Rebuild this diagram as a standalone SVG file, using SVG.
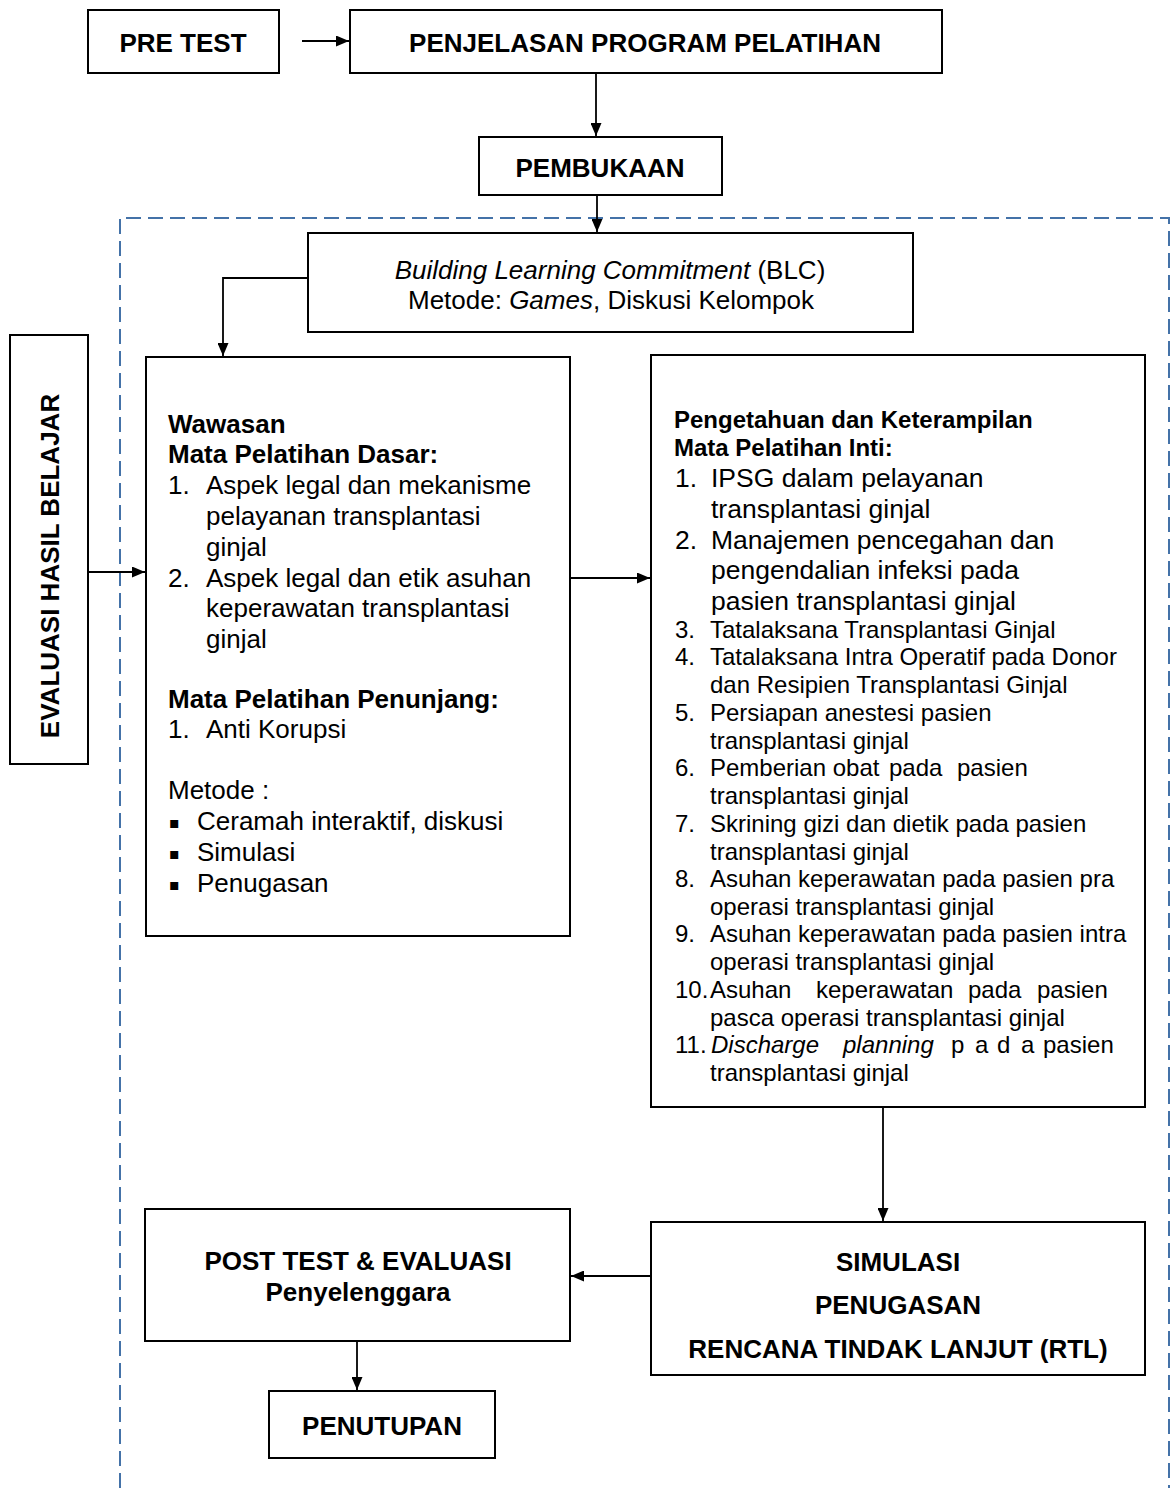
<svg xmlns="http://www.w3.org/2000/svg" width="1171" height="1488" viewBox="0 0 1171 1488">
<style>
.box{fill:#fff;stroke:#000;stroke-width:2}
.t{font-family:"Liberation Sans",Arial,sans-serif;fill:#000}
.b{font-weight:bold}
.c{text-anchor:middle}
.i{font-style:italic}
.con{fill:none;stroke:#000;stroke-width:1.8}
.f26{font-size:26px}
.f24{font-size:24px}
.f265{font-size:26.5px}
.bul{font-family:"DejaVu Sans",sans-serif;font-size:16px}
</style>
<defs>
<marker id="ah" markerUnits="userSpaceOnUse" markerWidth="13" markerHeight="11" refX="13" refY="5.5" orient="auto">
<path d="M0,0 L13,5.5 L0,11 z" fill="#000"/>
</marker>
</defs>
<rect width="1171" height="1488" fill="#fff"/>

<g id="frame">
<path d="M120,1488 L120,218 L1169,218 L1169,1488" fill="none" stroke="#4472a8" stroke-width="2" stroke-dasharray="15 7"/>
</g>

<g id="pretest">
<rect class="box" x="88" y="10" width="191" height="63"/>
<text class="t b c f26" x="183" y="52">PRE TEST</text>
</g>

<g id="penjelasan">
<rect class="box" x="350" y="10" width="592" height="63"/>
<text class="t b c f26" x="645" y="52">PENJELASAN PROGRAM PELATIHAN</text>
</g>

<g id="pembukaan">
<rect class="box" x="479" y="137" width="243" height="58"/>
<text class="t b c f26" x="600" y="177">PEMBUKAAN</text>
</g>

<g id="blc">
<rect class="box" x="308" y="233" width="605" height="99"/>
<text class="t c f26" x="610" y="279"><tspan class="i">Building Learning Commitment</tspan> (BLC)</text>
<text class="t c f26" x="611" y="309">Metode: <tspan class="i">Games</tspan>, Diskusi Kelompok</text>
</g>

<g id="evaluasi">
<rect class="box" x="10" y="335" width="78" height="429"/>
<text class="t b c f26" x="59" y="566" transform="rotate(-90 59 566)">EVALUASI HASIL BELAJAR</text>
</g>

<g id="wawasan">
<rect class="box" x="146" y="357" width="424" height="579"/>
<text class="t b f26" x="168" y="433">Wawasan</text>
<text class="t b f26" x="168" y="463">Mata Pelatihan Dasar:</text>
<text class="t f26" x="168" y="494">1.</text>
<text class="t f26" x="206" y="494">Aspek legal dan mekanisme</text>
<text class="t f26" x="206" y="525">pelayanan transplantasi</text>
<text class="t f26" x="206" y="556">ginjal</text>
<text class="t f26" x="168" y="587">2.</text>
<text class="t f26" x="206" y="587">Aspek legal dan etik asuhan</text>
<text class="t f26" x="206" y="617">keperawatan transplantasi</text>
<text class="t f26" x="206" y="648">ginjal</text>
<text class="t b f26" x="168" y="708">Mata Pelatihan Penunjang:</text>
<text class="t f26" x="168" y="738">1.</text>
<text class="t f26" x="206" y="738">Anti Korupsi</text>
<text class="t f26" x="168" y="799">Metode :</text>
<text class="bul" x="169" y="828">▪</text>
<text class="t f26" x="197" y="830">Ceramah interaktif, diskusi</text>
<text class="bul" x="169" y="859">▪</text>
<text class="t f26" x="197" y="861">Simulasi</text>
<text class="bul" x="169" y="890">▪</text>
<text class="t f26" x="197" y="892">Penugasan</text>
</g>

<g id="inti">
<rect class="box" x="651" y="355" width="494" height="752"/>
<text class="t b f24" x="674" y="428">Pengetahuan dan Keterampilan</text>
<text class="t b f24" x="674" y="456">Mata Pelatihan Inti:</text>
<text class="t f265" x="675" y="487">1.</text>
<text class="t f265" x="711" y="487">IPSG dalam pelayanan</text>
<text class="t f265" x="711" y="518">transplantasi ginjal</text>
<text class="t f265" x="675" y="549">2.</text>
<text class="t f265" x="711" y="549">Manajemen pencegahan dan</text>
<text class="t f265" x="711" y="579">pengendalian infeksi pada</text>
<text class="t f265" x="711" y="610">pasien transplantasi ginjal</text>
<text class="t f24" x="675" y="638">3.</text>
<text class="t f24" x="710" y="638">Tatalaksana Transplantasi Ginjal</text>
<text class="t f24" x="675" y="665">4.</text>
<text class="t f24" x="710" y="665">Tatalaksana Intra Operatif pada Donor</text>
<text class="t f24" x="710" y="693">dan Resipien Transplantasi Ginjal</text>
<text class="t f24" x="675" y="721">5.</text>
<text class="t f24" x="710" y="721">Persiapan anestesi pasien</text>
<text class="t f24" x="710" y="749">transplantasi ginjal</text>
<text class="t f24" x="675" y="776">6.</text>
<text class="t f24" y="776"><tspan x="710">Pemberian obat</tspan><tspan x="889">pada</tspan><tspan x="957">pasien</tspan></text>
<text class="t f24" x="710" y="804">transplantasi ginjal</text>
<text class="t f24" x="675" y="832">7.</text>
<text class="t f24" x="710" y="832">Skrining gizi dan dietik pada pasien</text>
<text class="t f24" x="710" y="860">transplantasi ginjal</text>
<text class="t f24" x="675" y="887">8.</text>
<text class="t f24" x="710" y="887">Asuhan keperawatan pada pasien pra</text>
<text class="t f24" x="710" y="915">operasi transplantasi ginjal</text>
<text class="t f24" x="675" y="942">9.</text>
<text class="t f24" x="710" y="942">Asuhan keperawatan pada pasien intra</text>
<text class="t f24" x="710" y="970">operasi transplantasi ginjal</text>
<text class="t f24" x="675" y="998">10.</text>
<text class="t f24" y="998"><tspan x="710">Asuhan</tspan><tspan x="816">keperawatan</tspan><tspan x="968">pada</tspan><tspan x="1037">pasien</tspan></text>
<text class="t f24" x="710" y="1026">pasca operasi transplantasi ginjal</text>
<text class="t f24" x="675" y="1053">11.</text>
<text class="t f24" y="1053"><tspan class="i" x="711">Discharge</tspan><tspan class="i" x="843">planning</tspan><tspan x="951">p</tspan><tspan x="975">a</tspan><tspan x="997">d</tspan><tspan x="1021">a</tspan><tspan x="1043">pasien</tspan></text>
<text class="t f24" x="710" y="1081">transplantasi ginjal</text>
</g>

<g id="simulasi">
<rect class="box" x="651" y="1222" width="494" height="153"/>
<text class="t b c f26" x="898" y="1271">SIMULASI</text>
<text class="t b c f26" x="898" y="1314">PENUGASAN</text>
<text class="t b c f26" x="898" y="1358">RENCANA TINDAK LANJUT (RTL)</text>
</g>

<g id="posttest">
<rect class="box" x="145" y="1209" width="425" height="132"/>
<text class="t b c f26" x="358" y="1270">POST TEST &amp; EVALUASI</text>
<text class="t b c f26" x="358" y="1301">Penyelenggara</text>
</g>

<g id="penutupan">
<rect class="box" x="269" y="1391" width="226" height="67"/>
<text class="t b c f26" x="382" y="1435">PENUTUPAN</text>
</g>

<g id="connectors">
<line class="con" x1="302" y1="41" x2="349" y2="41" marker-end="url(#ah)"/>
<line class="con" x1="596" y1="73" x2="596" y2="136" marker-end="url(#ah)"/>
<line class="con" x1="597" y1="195" x2="597" y2="232" marker-end="url(#ah)"/>
<polyline class="con" points="308,278 223,278 223,356" marker-end="url(#ah)"/>
<line class="con" x1="88" y1="572" x2="145" y2="572" marker-end="url(#ah)"/>
<line class="con" x1="570" y1="578" x2="650" y2="578" marker-end="url(#ah)"/>
<line class="con" x1="883" y1="1107" x2="883" y2="1221" marker-end="url(#ah)"/>
<line class="con" x1="651" y1="1276" x2="571" y2="1276" marker-end="url(#ah)"/>
<line class="con" x1="357" y1="1341" x2="357" y2="1390" marker-end="url(#ah)"/>
</g>
</svg>
